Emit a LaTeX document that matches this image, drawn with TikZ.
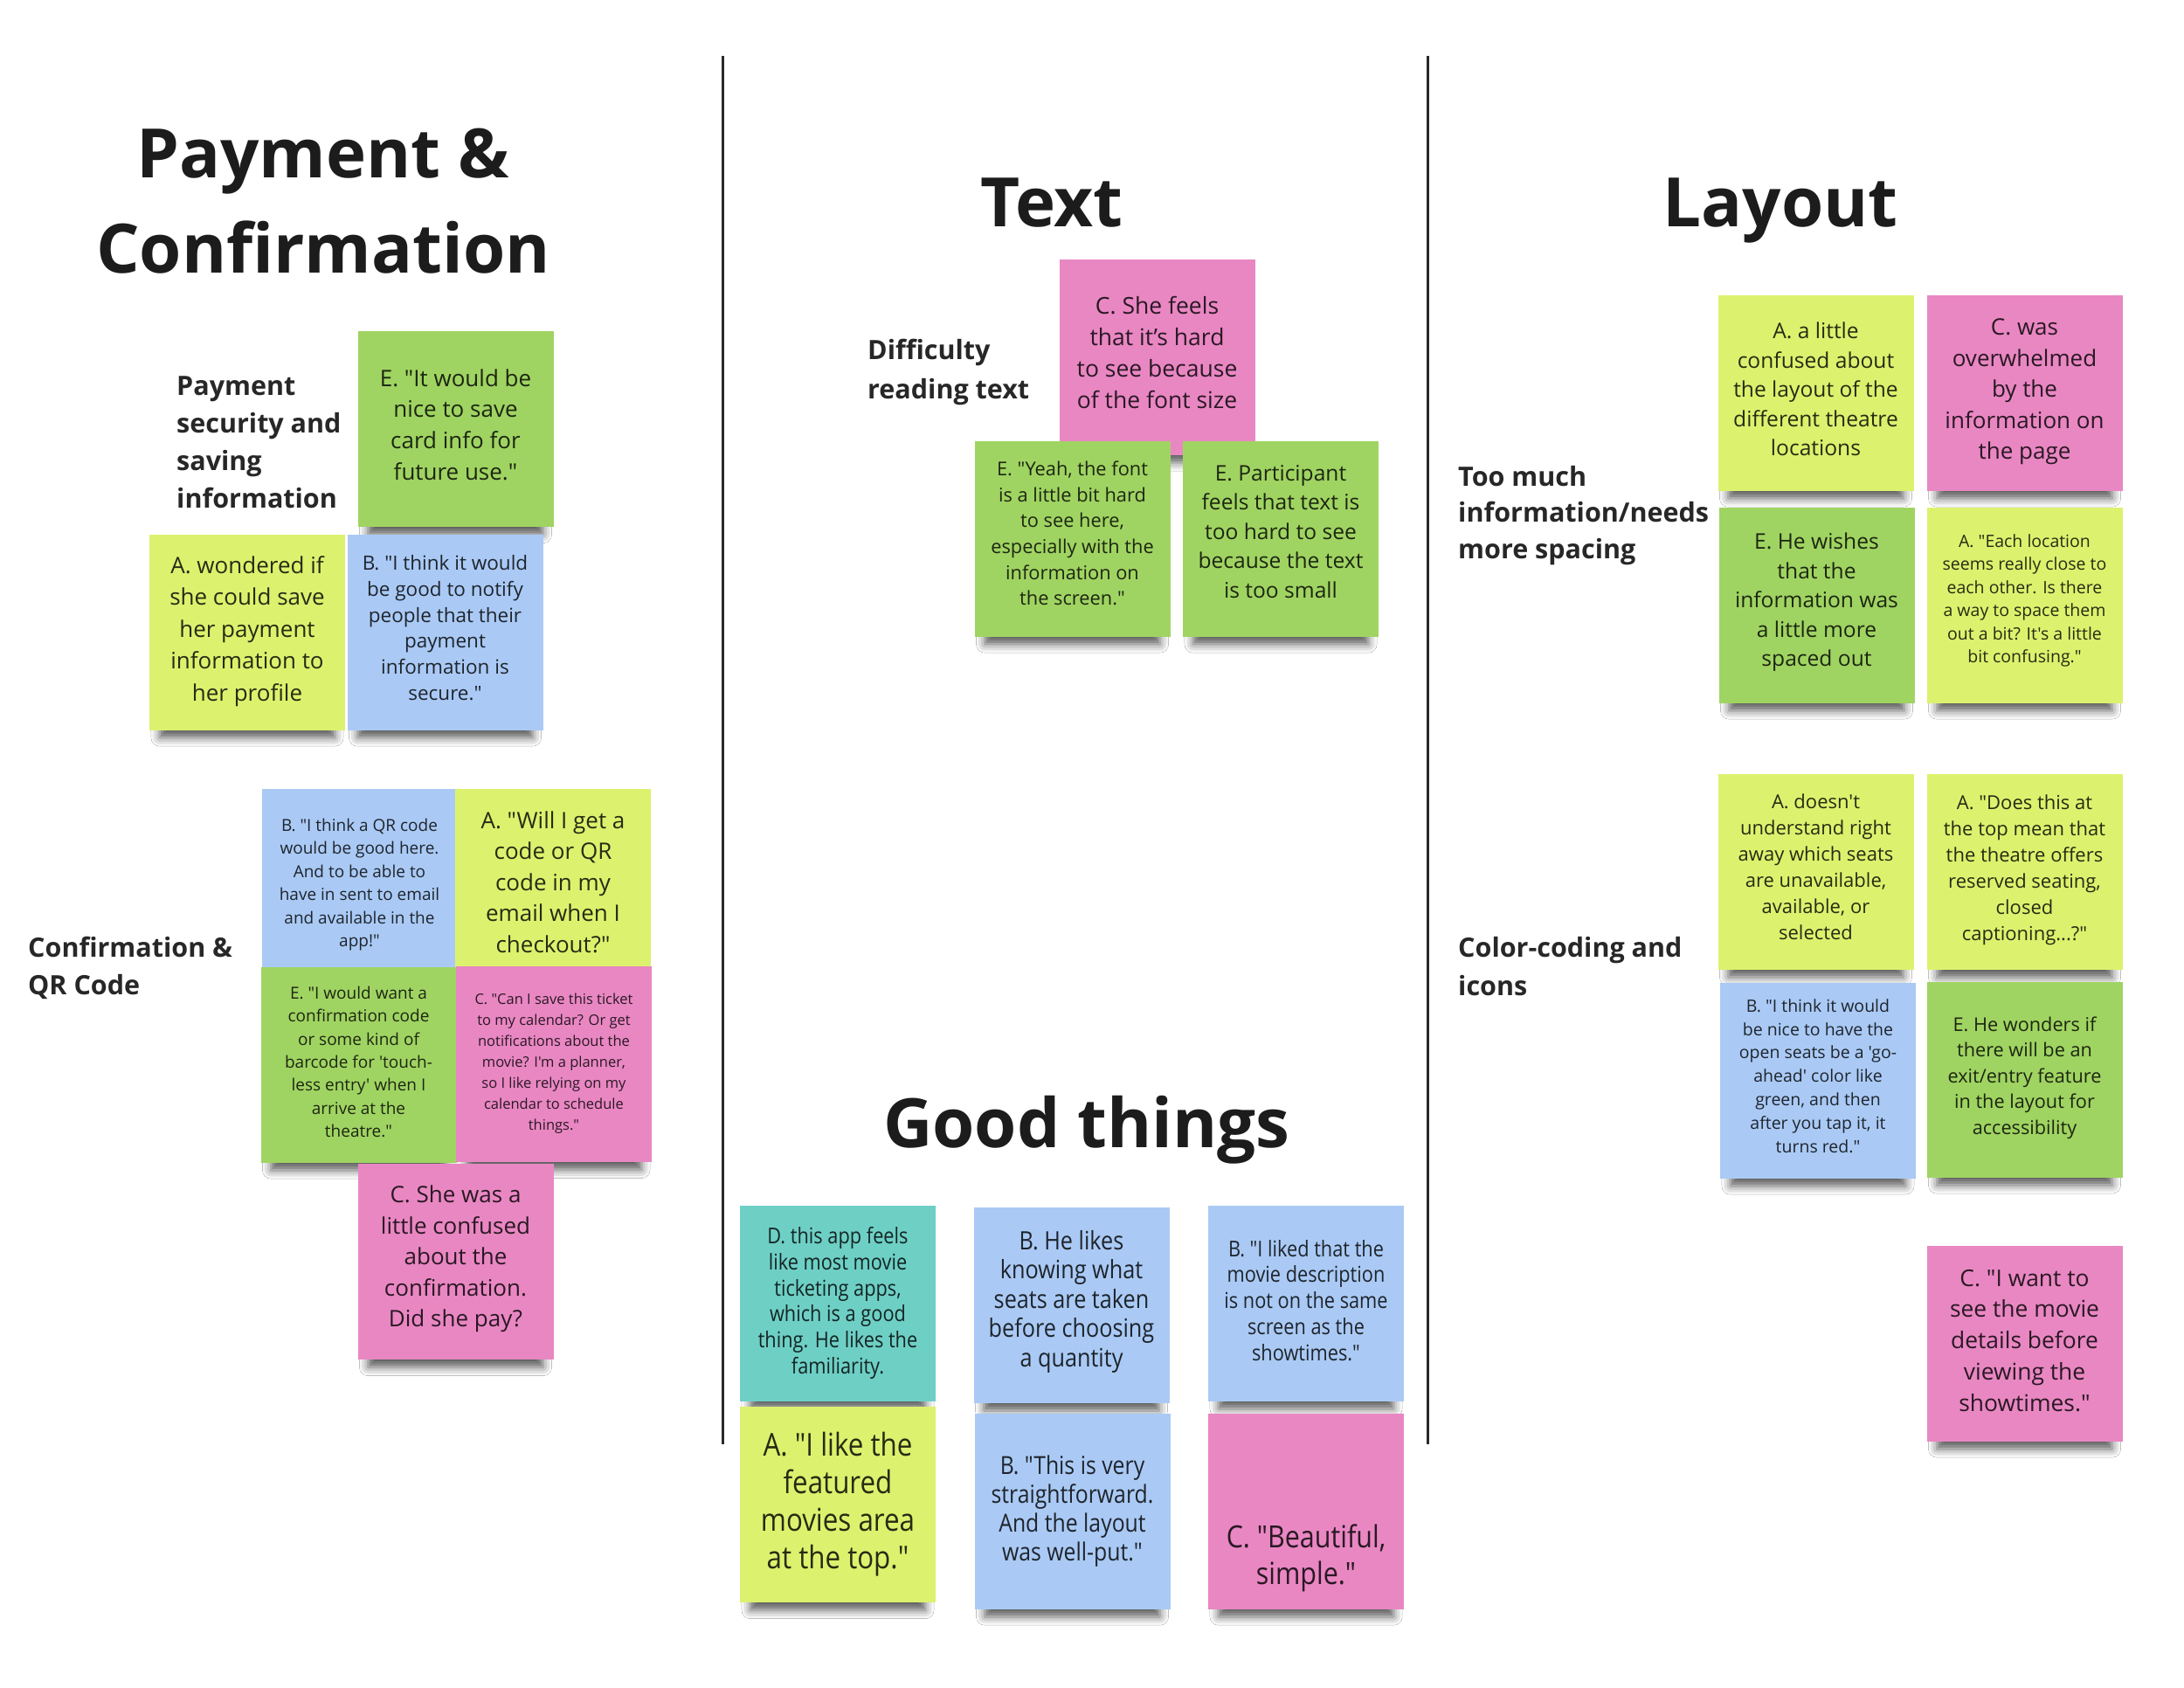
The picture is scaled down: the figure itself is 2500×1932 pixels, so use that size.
\documentclass[tikz,border=0pt]{standalone}
\usepackage{fontspec}
\setmainfont{Open Sans}[Ligatures=TeXOff]
\newfontfamily\condfont[FakeStretch=0.87]{Open Sans}
\usetikzlibrary{shadows.blur}
\definecolor{notelime}{HTML}{DCF26E}
\definecolor{notegreen}{HTML}{A0D462}
\definecolor{noteblue}{HTML}{AACAF5}
\definecolor{notepink}{HTML}{E987C3}
\definecolor{noteteal}{HTML}{6ECFC5}
\definecolor{inkdark}{HTML}{1C1C1C}
\definecolor{rulegray}{HTML}{2A2A2A}
\newcommand{\nfs}[2]{\fontsize{#1}{#2}\selectfont}
\newcommand{\sticky}[6][4]{%
  \node[note, fill=#3] (#2) at (#4) {};
  \node[notetext, font=#5, yshift=#1pt] (#2-t) at (#2.center) {#6};}
\tikzset{
  note/.style={draw=none, rectangle, minimum width=224pt, minimum height=224pt, inner sep=0pt,
    blur shadow={shadow xshift=0pt, shadow yshift=-23pt, shadow scale=0.895, shadow blur radius=11pt, shadow opacity=65}},
  notetext/.style={align=center, inner sep=0pt, text=black, text opacity=0.82},
  title/.style={font=\bfseries\nfs{78}{94}, text=inkdark, anchor=base, inner sep=0pt},
  grouplabel/.style={font=\bfseries\nfs{30.5}{43}, text=inkdark!95, anchor=base west, inner sep=0pt},
  divider/.style={draw=rulegray, line width=3pt}
}
\begin{document}
\begin{tikzpicture}[x=1pt, y=-1pt]
\fill[white] (0,0) rectangle (2500,1932);
\useasboundingbox (0,0) rectangle (2500,1932);

% dividers
\coordinate (d1a) at (827,64);
\coordinate (d1b) at (827,1653);
\coordinate (d2a) at (1634,64);
\coordinate (d2b) at (1634,1653);
\draw[divider] (d1a) -- (d1b);
\draw[divider] (d2a) -- (d2b);

% titles
\node[title] (t1a) at (370,203) {Payment \&};
\node[title] (t1b) at (370,312) {Confirmation};
\node[title] (t2) at (1204,259) {Text};
\node[title] (t3) at (2038,259) {Layout};
\node[title] (t4) at (1244,1313) {Good things};

% group labels
\node[grouplabel] (l1a) at (202,452) {Payment};
\node[grouplabel] (l1b) at (202,495) {security and};
\node[grouplabel] (l1c) at (202,538) {saving};
\node[grouplabel] (l1d) at (202,581) {information};
\node[grouplabel] (l2a) at (32,1095) {Confirmation \&};
\node[grouplabel] (l2b) at (32,1138) {QR Code};
\node[grouplabel] (l3a) at (993,411) {Difficulty};
\node[grouplabel] (l3b) at (993,456) {reading text};
\node[grouplabel] (l4a) at (1669,556) {Too much};
\node[grouplabel] (l4b) at (1669,597) {information/needs};
\node[grouplabel] (l4c) at (1669,639) {more spacing};
\node[grouplabel] (l5a) at (1669,1095) {Color-coding and};
\node[grouplabel] (l5b) at (1669,1139) {icons};

% Payment & Confirmation
\sticky[5]{pE}{notegreen}{521.5,491}{\nfs{26}{35.6}}{E. "It would be\\nice to save\\card info for\\future use."}
\sticky[1]{pA}{notelime}{283,723.5}{\nfs{26}{36.4}}{A. wondered if\\she could save\\her payment\\information to\\her profile}
\sticky[5]{pB}{noteblue}{509.5,723.5}{\nfs{22.5}{29.7}}{B. "I think it would\\be good to notify\\people that their\\payment\\information is\\secure."}

\sticky[2]{cB}{noteblue}{411.5,1014.5}{\nfs{19}{26.5}}{B. "I think a QR code\\would be good here.\\And to be able to\\have in sent to email\\and available in the\\app!"}
\sticky[5]{cA}{notelime}{633,1014.5}{\nfs{26}{35.5}}{A. "Will I get a\\code or QR\\code in my\\email when I\\checkout?"}
\sticky[3]{cE}{notegreen}{410.5,1218.5}{\nfs{19}{26.3}}{E. "I would want a\\confirmation code\\or some kind of\\barcode for 'touch-\\less entry' when I\\arrive at the\\theatre."}
\sticky[1]{cC}{notepink}{634,1218}{\nfs{16.5}{23.9}}{C. "Can I save this ticket\\to my calendar? Or get\\notifications about the\\movie? I'm a planner,\\so I like relying on my\\calendar to schedule\\things."}
\sticky[3]{cC2}{notepink}{521.5,1444}{\nfs{26}{35.5}}{C. She was a\\little confused\\about the\\confirmation.\\Did she pay?}

% Text
\sticky[5]{tC}{notepink}{1324.5,408.5}{\nfs{26.5}{36.2}}{C. She feels\\that it’s hard\\to see because\\of the font size}
\sticky[6]{tE1}{notegreen}{1227.5,616.5}{\nfs{21.8}{29.7}}{E. "Yeah, the font\\is a little bit hard\\to see here,\\especially with the\\information on\\the screen."}
\sticky[8]{tE2}{notegreen}{1466,616.5}{\nfs{24.6}{33.5}}{E. Participant\\feels that text is\\too hard to see\\because the text\\is too small}

% Layout
\sticky[4]{lA1}{notelime}{2078.5,449.5}{\nfs{24.6}{33.5}}{A. a little\\confused about\\the layout of the\\different theatre\\locations}
\sticky[1]{lC1}{notepink}{2317.5,449.5}{\nfs{26}{35.5}}{C. was\\overwhelmed\\by the\\information on\\the page}
\sticky[3]{lE1}{notegreen}{2079.5,692.5}{\nfs{24.6}{33.5}}{E. He wishes\\that the\\information was\\a little more\\spaced out}
\sticky[5]{lA2}{notelime}{2317.5,692.5}{\nfs{19.5}{26.5}}{A. "Each location\\seems really close to\\each other. Is there\\a way to space them\\out a bit? It's a little\\bit confusing."}
\sticky[5]{lA3}{notelime}{2078.5,997.5}{\nfs{22}{30}}{A. doesn't\\understand right\\away which seats\\are unavailable,\\available, or\\selected}
\sticky[2]{lA4}{notelime}{2317.5,998}{\nfs{22}{30}}{A. "Does this at\\the top mean that\\the theatre offers\\reserved seating,\\closed\\captioning...?"}
\sticky[5]{lB}{noteblue}{2081,1236.5}{\nfs{19.5}{26.8}}{B. "I think it would\\be nice to have the\\open seats be a 'go-\\ahead' color like\\green, and then\\after you tap it, it\\turns red."}
\sticky[2]{lE2}{notegreen}{2317.5,1235.5}{\nfs{21.7}{29.5}}{E. He wonders if\\there will be an\\exit/entry feature\\in the layout for\\accessibility}
\sticky[3]{lC2}{notepink}{2317.5,1537.5}{\nfs{26.4}{35.9}}{C. "I want to\\see the movie\\details before\\viewing the\\showtimes."}

% Good things
\sticky[0]{gD}{noteteal}{959,1491.5}{\condfont\nfs{25}{29.7}}{D. this app feels\\like most movie\\ticketing apps,\\which is a good\\thing. He likes the\\familiarity.}
\sticky[4]{gB1}{noteblue}{1226.5,1493.5}{\condfont\nfs{29}{33.5}}{B. He likes\\knowing what\\seats are taken\\before choosing\\a quantity}
\sticky[3]{gB2}{noteblue}{1495,1491.5}{\condfont\nfs{25}{29.9}}{B. "I liked that the\\movie description\\is not on the same\\screen as the\\showtimes."}
\sticky[0]{gA}{notelime}{959,1722}{\condfont\nfs{36}{43}}{A. "I like the\\featured\\movies area\\at the top."}
\sticky[0]{gB3}{noteblue}{1227.5,1729.5}{\condfont\nfs{28.5}{33}}{B. "This is very\\straightforward.\\And the layout\\was well-put."}
\sticky[-54]{gC}{notepink}{1495,1729.5}{\condfont\nfs{35}{41.5}}{C. "Beautiful,\\simple."}
\end{tikzpicture}
\end{document}
